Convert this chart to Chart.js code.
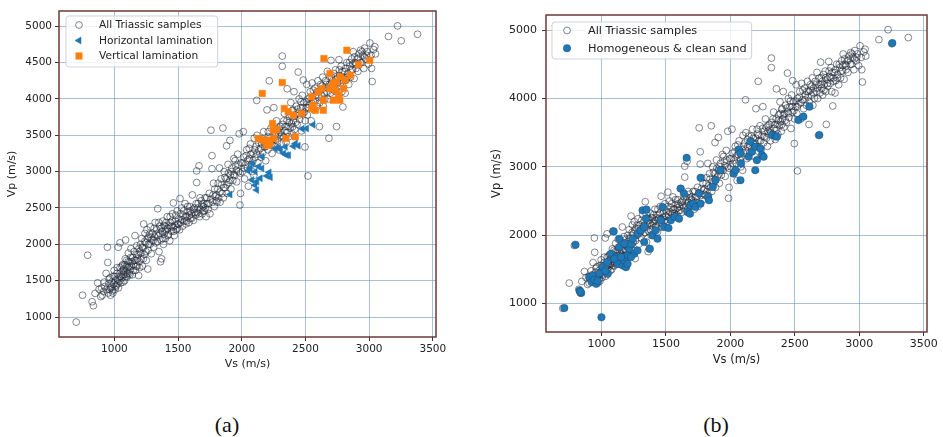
<!DOCTYPE html>
<html><head><meta charset="utf-8">
<script src="https://cdn.jsdelivr.net/npm/chart.js@4.4.1/dist/chart.umd.min.js"></script>
<style>
html,body{margin:0;padding:0;background:#fff;width:943px;height:437px;overflow:hidden;}
canvas{position:absolute;top:0;}
.cap{position:absolute;top:425px;font-family:"Liberation Serif","Times New Roman",serif;font-size:22px;color:#111;transform:translate(-50%,-50%);white-space:nowrap;}
</style></head><body>
<canvas id="ca" width="470" height="400" style="left:0"></canvas>
<canvas id="cb" width="473" height="400" style="left:470px"></canvas>
<div class="cap" style="left:227px">(a)</div>
<div class="cap" style="left:716px">(b)</div>
<script>
// ---------- tick labels ----------
const xTicks = [1000, 1500, 2000, 2500, 3000, 3500];
const yTicksA = [1000, 1500, 2000, 2500, 3000, 3500, 4000, 4500, 5000];
const yTicksB = [1000, 2000, 3000, 4000, 5000];
const xTitle = "Vs (m/s)";
const yTitle = "Vp (m/s)";
const seriesNames = ["All Triassic samples", "Horizontal lamination", "Vertical lamination", "Homogeneous & clean sand"];

// ---------- data: [Vs, Vp] (m/s) ----------
const triassic = [
[700,930],[750,1300],[790,1850],[825,1210],[835,1155],[848,1325],[868,1470],[880,1380],[893,1280],[900,1395],[905,1300],
[915,1350],[925,1420],[935,1600],[945,1960],[948,1750],[950,1330],[955,1460],[960,1380],[965,1540],[970,1300],[975,1420],[980,1480],[985,1360],[990,1560],[995,1450],[998,1640],
[920,1480],[940,1380],[958,1520],[972,1400],[988,1330],
[1005,1380],[1010,1500],[1015,1440],[1020,1600],[1025,1520],[1030,1960],[1032,1400],[1038,1560],[1044,2020],[1045,1680],[1050,1470],[1055,1620],[1060,1540],[1065,1720],[1070,1590],[1075,1660],[1080,1500],[1085,1800],[1088,2060],[1090,1620],[1095,1700],[1098,1550],
[1002,1560],[1012,1420],[1022,1680],[1028,1460],[1042,1500],[1052,1560],[1058,1700],[1068,1480],[1072,1640],[1078,1580],[1082,1720],[1092,1560],[1097,1780],
[1105,1680],[1110,1880],[1115,1600],[1120,1760],[1125,1650],[1130,1940],[1135,1700],[1140,1580],[1145,1820],[1150,1720],[1155,1900],[1162,2120],[1165,1640],[1170,1780],[1175,1980],[1180,1700],[1185,1860],[1190,1570],[1195,1760],
[1102,1600],[1108,1760],[1118,1700],[1122,1580],[1128,1820],[1138,1760],[1148,1640],[1158,1780],[1168,1700],[1172,1860],[1182,1800],[1192,1940],[1198,1680],
[1200,1900],[1205,2000],[1210,1800],[1215,2080],[1220,1700],[1225,1950],[1230,2280],[1235,1860],[1240,2150],[1245,2020],[1250,1780],[1255,2200],[1262,1660],[1265,1920],[1270,2100],[1278,2000],[1283,2240],[1290,1870],[1295,2060],
[1208,1880],[1218,1960],[1228,1800],[1238,2040],[1248,1900],[1258,2080],[1268,2000],[1275,2140],[1288,2100],
[1300,2150],[1308,1960],[1315,2100],[1320,2300],[1325,2020],[1332,2200],[1340,2490],[1345,2120],[1350,1900],[1355,2250],[1362,1760],[1365,2060],[1370,1800],[1375,2180],[1380,2320],[1385,2000],[1390,2140],[1395,2250],
[1305,2050],[1312,2220],[1328,2140],[1338,2040],[1348,2300],[1358,2150],[1368,2220],[1378,2080],[1388,2260],[1398,2180],
[1400,2080],[1408,2200],[1415,2380],[1420,2120],[1428,2260],[1435,2050],[1440,2300],[1448,2180],[1455,2420],[1460,2240],[1463,2570],[1470,2120],[1478,2320],[1485,2200],[1492,2460],[1498,2280],
[1405,2300],[1418,2220],[1425,2140],[1438,2380],[1445,2240],[1452,2320],[1465,2180],[1475,2260],[1482,2400],[1495,2220],
[1505,2350],[1512,2200],[1515,2630],[1520,2300],[1528,2500],[1535,2250],[1540,2400],[1548,2320],[1555,2560],[1562,2280],[1570,2380],[1578,2450],[1585,2300],[1592,2520],[1598,2360],
[1502,2280],[1518,2420],[1532,2340],[1545,2460],[1558,2380],[1565,2320],[1575,2520],[1588,2400],[1595,2460],
[1605,2420],[1612,2680],[1620,2330],[1628,2500],[1635,2400],[1646,2850],[1646,3010],[1650,2440],[1658,2560],[1664,3080],[1668,2380],[1675,2480],[1682,2600],[1690,2420],[1698,2520],
[1608,2360],[1618,2480],[1632,2440],[1642,2560],[1655,2500],[1662,2420],[1672,2640],[1685,2540],[1695,2460],
[1705,2460],[1712,2640],[1720,2380],[1728,2560],[1735,2480],[1745,2700],[1750,2420],[1758,3570],[1766,3220],[1766,3040],[1770,2580],[1778,2840],[1785,2520],[1792,2660],[1798,2600],
[1702,2560],[1715,2500],[1725,2640],[1740,2560],[1755,2620],[1775,2680],[1788,2760],
[1805,2580],[1812,2760],[1818,2640],[1825,3050],[1830,2580],[1838,2900],[1845,2700],[1852,3600],[1855,2640],[1862,3000],[1870,2780],[1878,2900],[1881,3355],[1885,2700],[1892,3100],[1898,2850],
[1802,2680],[1815,2840],[1828,2720],[1842,2820],[1858,2780],[1868,2920],[1882,2820],[1895,2980],
[1907,3430],[1910,2950],[1915,2760],[1922,3050],[1930,2880],[1938,3180],[1945,2950],[1952,3080],[1960,2860],[1968,3240],[1975,3000],[1980,3520],[1986,2540],[1990,2700],[1995,3120],
[1905,2880],[1918,3000],[1935,2960],[1948,3150],[1958,3020],[1972,3100],[1988,2980],
[2005,3000],[2012,3550],[2015,3200],[2022,2900],[2030,3100],[2038,3300],[2045,3050],[2052,2800],[2060,3180],[2068,3380],[2075,3100],[2082,3000],[2090,3250],[2098,3460],[2095,2950],
[2008,3120],[2020,3050],[2035,3220],[2048,3160],[2058,3320],[2072,3240],[2088,3150],
[2105,3200],[2112,3350],[2117,3980],[2120,3500],[2128,3120],[2135,3300],[2142,3450],[2150,3200],[2158,3380],[2165,3260],[2172,3550],[2180,3340],[2188,3150],[2195,3420],[2198,3850],
[2102,3300],[2118,3240],[2132,3400],[2148,3320],[2162,3450],[2178,3420],[2192,3350],
[2205,3300],[2212,3480],[2216,4250],[2222,3380],[2230,3600],[2238,3250],[2245,3450],[2252,3880],[2258,3350],[2265,3520],[2272,3700],[2280,3420],[2288,3300],[2292,3600],[2298,3480],
[2208,3550],[2220,3460],[2235,3380],[2250,3560],[2262,3440],[2278,3580],[2290,3520],
[2305,3540],[2310,3380],[2318,4590],[2318,4450],[2322,3650],[2328,3480],[2335,3800],[2340,3560],[2348,3400],[2355,3700],[2357,4140],[2362,3620],[2368,3480],[2375,3760],[2380,3600],[2385,3950],[2390,3660],[2395,3520],[2398,3840],
[2302,3620],[2315,3500],[2330,3700],[2345,3620],[2358,3540],[2372,3680],[2388,3780],
[2402,3850],[2405,3700],[2410,4100],[2415,3580],[2420,3780],[2428,3900],[2435,3650],[2443,4370],[2445,3800],[2450,4000],[2455,3720],[2462,3880],[2470,3560],[2475,4050],[2480,3800],[2483,4260],[2488,3950],[2496,3340],[2498,3700],
[2400,3620],[2412,3760],[2425,3680],[2438,3860],[2452,3780],[2465,3960],[2478,3880],[2492,3820],
[2505,3880],[2510,4200],[2515,3780],[2520,2940],[2522,4000],[2530,3920],[2538,4100],[2545,3700],[2552,4220],[2560,3980],[2568,3850],[2575,4150],[2582,4050],[2590,3900],[2598,4250],
[2508,3960],[2518,3880],[2535,4020],[2548,3940],[2562,4120],[2578,3980],[2592,4100],
[2605,4100],[2610,3620],[2613,3950],[2620,4200],[2628,4050],[2635,4300],[2640,3900],[2645,4150],[2652,4000],[2658,4250],[2665,4100],[2672,4380],[2678,4000],[2684,3460],[2688,4200],[2695,4080],[2700,4530],
[2602,4020],[2618,4120],[2632,4180],[2648,4080],[2662,4200],[2675,4150],[2690,4300],
[2705,4300],[2710,4150],[2716,4050],[2722,4350],[2728,4200],[2735,4400],[2740,4100],[2744,3620],[2750,4280],[2756,4180],[2763,4540],[2768,4320],[2775,4220],[2780,4450],[2786,4100],[2794,3890],[2798,4300],
[2702,4200],[2714,4250],[2726,4120],[2738,4300],[2752,4220],[2766,4400],[2778,4300],[2790,4380],
[2805,4380],[2812,4080],[2818,4260],[2825,4500],[2832,4350],[2840,4200],[2848,4450],[2855,4300],[2862,4550],[2870,4400],[2875,4650],[2882,4280],[2890,4500],[2897,4420],
[2802,4250],[2815,4420],[2828,4300],[2845,4500],[2858,4400],[2872,4480],[2886,4580],
[2905,4550],[2912,4380],[2920,4620],[2933,4670],[2940,4500],[2950,4600],[2958,4420],[2965,4700],[2975,4550],[2985,4650],[2995,4480],
[2900,4480],[2915,4560],[2930,4500],[2945,4650],[2962,4580],[2980,4600],
[3006,4770],[3015,4600],[3019,4420],[3024,4240],[3035,4680],[3045,4720],[3050,4620],[3152,4860],[3223,5005],[3252,4800],[3380,4890]
];
const horizontal = [
[1908,2685],[2050,3010],[2066,3045],[2083,3110],[2105,3000],[2132,3070],[2158,3045],[2079,2886],[2104,2814],[2118,2864],
[2145,2909],[2117,2746],[2197,2941],[2215,2990],[2224,2923],[2263,3318],[2290,3330],[2303,3305],[2329,3250],[2352,3227],
[2368,3227],[2342,3341],[2405,3350],[2443,3355],[2474,3590],[2509,3594],[2560,3645],[2421,3386],[2160,3205]
];
const vertical = [
[2161,4075],[2318,4226],[2130,3456],[2169,3433],[2195,3364],[2208,3433],[2221,3364],[2242,3662],[2247,3570],[2274,3580],
[2252,3456],[2334,3868],[2365,3822],[2405,3777],[2347,3456],[2420,3479],[2470,3800],[2549,4029],[2562,3914],[2578,3845],
[2549,3868],[2601,4098],[2627,4143],[2640,3983],[2640,3845],[2645,4556],[2692,4349],[2692,4143],[2718,4212],[2734,4120],
[2744,4235],[2760,4052],[2773,4304],[2800,4143],[2812,4258],[2825,4670],[2852,4327],[2917,4473],[3005,4533],[2718,3983],[2770,3983]
];
const homogeneous = [
[712,936],[1000,800],[799,1861],[830,1191],[843,1156],[838,1175],[907,1386],[925,1313],[959,1289],[933,1411],[945,1350],[970,1330],
[1010,1533],[985,1445],[1049,1435],[1044,1606],[1030,1480],[1095,2056],[1075,1729],[1113,1680],[1139,1949],[1139,1826],[1126,1582],
[1165,1557],[1177,1631],[1203,1704],[1216,1802],[1229,1875],[1255,1729],[1100,1655],[1152,1680],[1190,1533],[1203,1582],[1229,1680],
[1280,1777],[1242,1949],[1177,1875],[1280,2022],[1306,2071],[1332,2120],[1319,2364],[1350,2374],[1345,2242],[1332,1900],[1376,1802],
[1396,1998],[1422,2071],[1435,1949],[1460,2218],[1473,2413],[1486,2120],[1520,2105],[1538,2218],[1569,2266],[1602,2242],[1615,2682],
[1640,2609],[1661,3132],[1666,2340],[1692,2438],[1712,2462],[1730,2413],[1687,2315],[1769,2462],[1769,2839],[1756,2609],[1826,2560],
[1834,2511],[1864,2707],[1885,2804],[1923,2951],[2026,2902],[2039,2951],[2078,2804],[2083,3049],[2065,3254],[2078,3196],[2142,3147],
[2155,3367],[2168,3220],[2193,3293],[2193,2951],[2206,3098],[2232,3269],[2245,3171],[2258,3147],[2322,3465],[2348,3450],[2361,3440],
[2528,3685],[2566,3734],[2613,3880],[2690,3465],[3256,4809]
];

// ---------- styling ----------
const GRID = 'rgba(110,150,185,0.6)';
const FRAME = '#6e3a36';
const TXT = '#222';
const FONT = '"DejaVu Sans", Verdana, sans-serif';
const toXY = arr => arr.map(p => ({x: p[0], y: p[1]}));

const frameLegend = {
  id: 'frameLegend',
  afterDraw(chart, args, o) {
    const {ctx, chartArea: a} = chart;
    ctx.save();
    ctx.strokeStyle = FRAME; ctx.lineWidth = 1.5;
    ctx.strokeRect(a.left, a.top, a.right - a.left, a.bottom - a.top);
    ctx.font = o.fontSize + 'px ' + FONT;
    const dss = chart.data.datasets;
    const maxW = Math.max(...dss.map(d => ctx.measureText(d.label).width));
    const bx = a.left + o.dx, by = a.top + o.dy;
    const bw = o.textDx + maxW + o.padR, bh = o.h;
    ctx.beginPath();
    ctx.roundRect(bx, by, bw, bh, 3);
    ctx.fillStyle = 'rgba(255,255,255,0.82)'; ctx.fill();
    ctx.strokeStyle = 'rgba(200,205,215,0.9)'; ctx.lineWidth = 1; ctx.stroke();
    o.legendOrder.forEach((di, k) => {
      const d = dss[di];
      const y = by + o.row0 + k * o.rowGap;
      ctx.fillStyle = d.backgroundColor; ctx.strokeStyle = d.borderColor; ctx.lineWidth = d.borderWidth;
      Chart.helpers.drawPoint(ctx, {pointStyle: d.pointStyle, rotation: d.pointRotation || 0, radius: d.pointRadius, borderWidth: d.borderWidth}, bx + o.markDx, y);
      ctx.fillStyle = TXT; ctx.textBaseline = 'middle'; ctx.textAlign = 'left';
      ctx.fillText(d.label, bx + o.textDx, y + 0.5);
    });
    ctx.restore();
  }
};

function triDs() {
  return {label: seriesNames[0], data: toXY(triassic), pointStyle: 'circle', pointRadius: 3.4,
    backgroundColor: 'rgba(0,0,0,0)', borderColor: 'rgba(30,40,55,0.62)', borderWidth: 0.9, order: 2};
}

function makeChart(id, datasets, c) {
  new Chart(document.getElementById(id), {
    type: 'scatter',
    data: {datasets},
    options: {
      responsive: false, animation: false, devicePixelRatio: 1,
      layout: {padding: {left: 0, right: c.padR, top: c.padT, bottom: 0}},
      plugins: {legend: {display: false}, tooltip: {enabled: false}, frameLegend: c.legend},
      scales: {
        x: {type: 'linear', min: c.xmin, max: c.xmax,
          afterBuildTicks: s => { s.ticks = xTicks.map(v => ({value: v})); },
          afterFit: s => { s.height = c.xH; },
          border: {display: false},
          grid: {color: GRID, lineWidth: 1, tickLength: 4, tickColor: '#333', tickWidth: 1},
          ticks: {font: {family: FONT, size: c.fs}, color: TXT, padding: 2, maxRotation: 0, autoSkip: false, callback: v => String(v)},
          title: {display: true, text: xTitle, color: TXT, font: {family: FONT, size: c.fs + 0.5}, padding: {top: 0, bottom: c.xTitlePad}}
        },
        y: {type: 'linear', min: c.ymin, max: c.ymax,
          afterBuildTicks: s => { s.ticks = c.yTicks.map(v => ({value: v})); },
          afterFit: s => { s.width = c.yW; },
          border: {display: false},
          grid: {color: GRID, lineWidth: 1, tickLength: 4, tickColor: '#333', tickWidth: 1},
          ticks: {font: {family: FONT, size: c.fs}, color: TXT, padding: c.yTickPad, autoSkip: false, callback: v => String(v)},
          title: {display: true, text: yTitle, color: TXT, font: {family: FONT, size: c.fs + 0.5}, padding: {top: c.yTitlePad, bottom: 0}}
        }
      }
    },
    plugins: [frameLegend]
  });
}

makeChart('ca', [
  triDs(),
  {label: seriesNames[1], data: toXY(horizontal), pointStyle: 'triangle', pointRotation: -90, pointRadius: 4,
   backgroundColor: '#1f77b4', borderColor: '#1f77b4', borderWidth: 0.5, order: 1},
  {label: seriesNames[2], data: toXY(vertical), pointStyle: 'rect', pointRadius: 4.6,
   backgroundColor: '#ff7f0e', borderColor: '#ff7f0e', borderWidth: 0.5, order: 1}
], {xmin: 565, xmax: 3525, ymin: 725, ymax: 5210, yTicks: yTicksA, padR: 34, padT: 11, xH: 63, yW: 59,
    fs: 10.5, xTitlePad: 29, yTitlePad: 6, yTickPad: 3,
    legend: {dx: 7, dy: 5, h: 51, row0: 9, rowGap: 15.5, markDx: 13, textDx: 33, padR: 5, fontSize: 10.6, legendOrder: [0, 1, 2]}});

makeChart('cb', [
  triDs(),
  {label: seriesNames[3], data: toXY(homogeneous), pointStyle: 'circle', pointRadius: 3.8,
   backgroundColor: '#1f77b4', borderColor: 'rgba(20,50,90,0.6)', borderWidth: 0.5, order: 1}
], {xmin: 570, xmax: 3525, ymin: 585, ymax: 5220, yTicks: yTicksB, padR: 16, padT: 15, xH: 68, yW: 76,
    fs: 11, xTitlePad: 33, yTitlePad: 20, yTickPad: 5,
    legend: {dx: 6, dy: 7, h: 37, row0: 8.5, rowGap: 17.7, markDx: 15, textDx: 36, padR: 5, fontSize: 11.3, legendOrder: [0, 1]}});
</script>
</body></html>
